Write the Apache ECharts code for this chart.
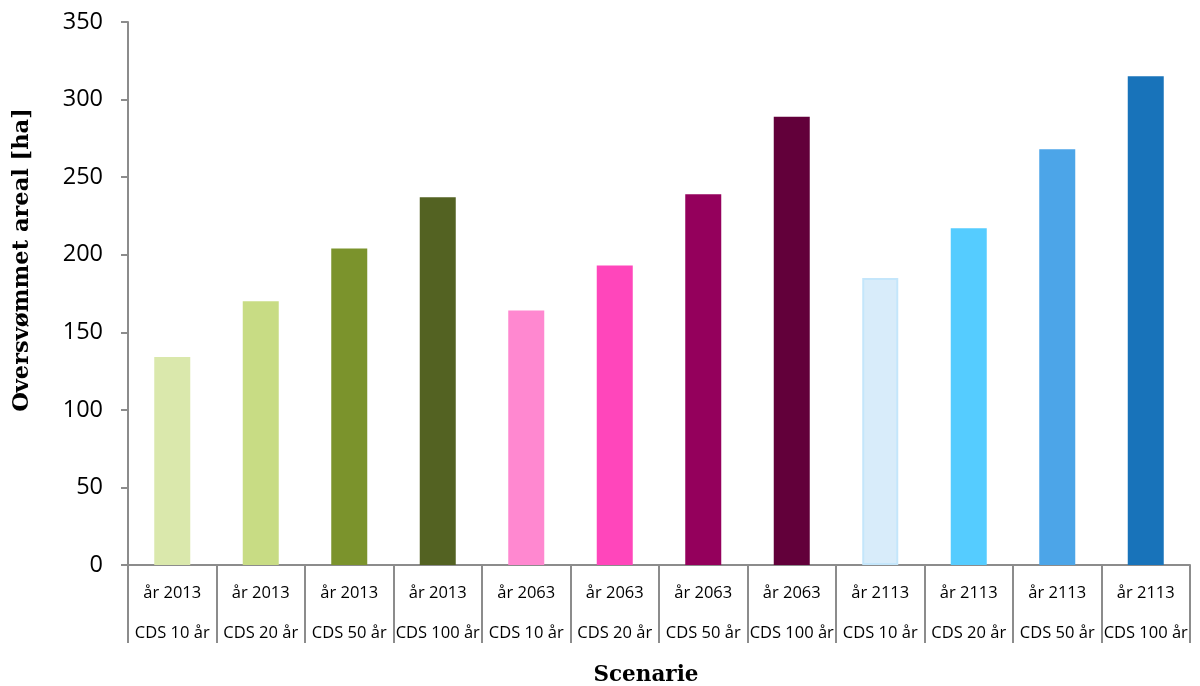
<!DOCTYPE html>
<html><head><meta charset="utf-8">
<script src="https://cdn.jsdelivr.net/npm/echarts@6/dist/echarts.min.js"></script>
<style>html,body{margin:0;padding:0;background:#fff}#c{width:1200px;height:686px}</style>
</head><body><div id="c"></div>
<script>
const years = ['år 2013','år 2013','år 2013','år 2013','år 2063','år 2063','år 2063','år 2063','år 2113','år 2113','år 2113','år 2113'];
const returnPeriods = ['CDS 10 år','CDS 20 år','CDS 50 år','CDS 100 år','CDS 10 år','CDS 20 år','CDS 50 år','CDS 100 år','CDS 10 år','CDS 20 år','CDS 50 år','CDS 100 år'];
const values = [134, 170, 204, 237, 164, 193, 239, 289, 185, 217, 268, 315];
const colors = ['#dae8ac','#c8dc84','#7b932c','#536222','#ff88d0','#ff46bb','#94005c','#62003a','#d8ecfa','#55ccff','#4ca5e8','#1873ba'];
const yTicks = [0,50,100,150,200,250,300,350];
const xTitle = 'Scenarie';
const yTitle = 'Oversvømmet areal [ha]';

const cats = years.map((y,i)=> i + '|' + y + '|' + returnPeriods[i]);
const chart = echarts.init(document.getElementById('c'));
chart.setOption({
  animation:false,
  grid:{left:128,right:10,top:22,bottom:121,containLabel:false,outerBoundsMode:'none'},
  graphic:[{
    type:'text', x:22, y:260, rotation:Math.PI/2,
    style:{text:yTitle, x:0, y:0, align:'center', verticalAlign:'middle',
      font:'bold 22.5px "DejaVu Serif"', fill:'#000'}
  },{
    type:'text', x:646, y:675,
    style:{text:xTitle, x:0, y:0, align:'center', verticalAlign:'middle',
      font:'bold 21.5px "DejaVu Serif"', fill:'#000'}
  }],
  xAxis:{
    type:'category', data:cats,
    axisLine:{lineStyle:{color:'#8c8c8c',width:2}},
    axisTick:{show:true,length:78,interval:0,lineStyle:{color:'#8c8c8c',width:2}},
    axisLabel:{interval:0,margin:8,fontFamily:'Open Sans',fontSize:16.5,color:'#000',lineHeight:40,
      formatter:v=>{const p=v.split('|');return p[1]+'\n'+p[2];}}
  },
  yAxis:{
    type:'value', min:yTicks[0], max:yTicks[yTicks.length-1], interval:50,
    axisLine:{show:true,lineStyle:{color:'#8c8c8c',width:2}},
    axisTick:{show:true,length:7,lineStyle:{color:'#8c8c8c',width:2}},
    splitLine:{show:false},
    axisLabel:{margin:25,fontFamily:'Open Sans',fontSize:23.5,color:'#000'}
  },
  series:[{
    type:'bar', barWidth:36,
    data:values.map((v,i)=>({value:v,itemStyle:{color:colors[i], borderColor: i===8?'#c4e6fb':colors[i], borderWidth: i===8?2:0}}))
  }]
});
</script></body></html>
